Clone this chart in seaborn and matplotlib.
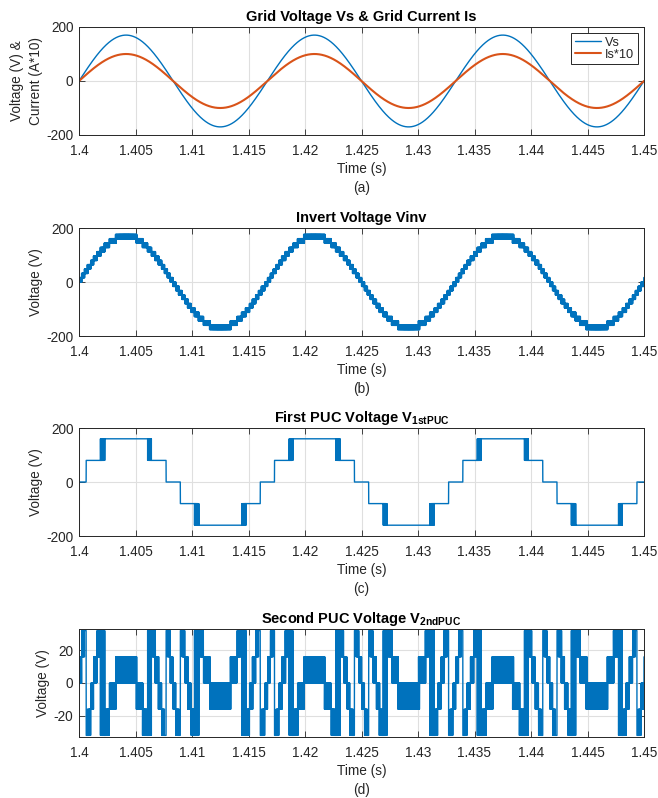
import numpy as np
import matplotlib
matplotlib.use("Agg")
import matplotlib.pyplot as plt
import seaborn as sns

# ---- waveform parameters ----
T_START, T_END = 1.4, 1.45          # s
DT = 1e-6                           # s, sample step
F_GRID = 60.0                       # Hz
VS_PEAK = 170.0                     # V, grid voltage peak
IS10_PEAK = 100.0                   # grid current peak (A*10)
LEVEL_STEP = 16.0                   # V, inverter voltage step
LEVEL_MAX = 176.0                   # V, highest inverter level
PUC1_STEP = 80.0                    # V, first PUC level step
PUC1_LOW_THRESHOLD = 40.0           # V
PUC1_HIGH_THRESHOLD = 128.0         # V
PUC2_LIMIT = 32.0                   # V, second PUC max level
CARRIER_HZ = 20000.0                # Hz, switching carrier
CARRIER_SPAN = 9.0                  # V, carrier amplitude

# ---- axis ticks / labels ----
x_ticks = [1.4, 1.405, 1.41, 1.415, 1.42, 1.425, 1.43, 1.435, 1.44, 1.445, 1.45]
x_tick_labels = ["1.4", "1.405", "1.41", "1.415", "1.42", "1.425", "1.43",
                 "1.435", "1.44", "1.445", "1.45"]
y_ticks_main = [-200, 0, 200]
y_ticks_puc2 = [-20, 0, 20]
ylim_main = (-200, 200)
ylim_puc2 = (-33, 33)

titles = [
    "Grid Voltage Vs & Grid Current Is",
    "Invert Voltage Vinv",
    r"First PUC Voltage V$_{\mathbf{1stPUC}}$",
    r"Second PUC Voltage V$_{\mathbf{2ndPUC}}$",
]
ylabels = ["Voltage (V) &\nCurrent (A*10)", "Voltage (V)", "Voltage (V)", "Voltage (V)"]
panel_tags = ["(a)", "(b)", "(c)", "(d)"]
legend_labels = ["Vs", "Is*10"]

# ---- signals ----
t = np.arange(T_START, T_END + DT / 2, DT)
phase = 2 * np.pi * F_GRID * (t - T_START)
vs = VS_PEAK * np.sin(phase)
is10 = IS10_PEAK * np.sin(phase)

carrier = 2 * np.abs(2 * ((t * CARRIER_HZ) % 1.0) - 1) - 1
vinv = LEVEL_STEP * np.round((vs + CARRIER_SPAN * carrier) / LEVEL_STEP)
vinv = np.clip(vinv, -LEVEL_MAX, LEVEL_MAX)

sgn = np.sign(vs)
k1 = (np.abs(vs) >= PUC1_LOW_THRESHOLD).astype(float) + \
     (np.abs(vinv) >= PUC1_HIGH_THRESHOLD).astype(float)
v1 = sgn * PUC1_STEP * k1
v2 = np.clip(vinv - v1, -PUC2_LIMIT, PUC2_LIMIT)

# ---- style ----
sns.set_style("ticks")
plt.rcParams["font.family"] = ["Liberation Sans", "DejaVu Sans"]
plt.rcParams["mathtext.fontset"] = "custom"
plt.rcParams["mathtext.rm"] = "Liberation Sans"
plt.rcParams["mathtext.bf"] = "Liberation Sans:bold"
plt.rcParams["mathtext.it"] = "Liberation Sans:italic"

BLUE = "#0072BD"
ORANGE = "#D95319"
DARK = "#262626"
GRID = "#dfdfdf"
FS = 9.8

W, H = 658, 798
fig = plt.figure(figsize=(W / 100, H / 100), dpi=100)

left_px, right_px = 79, 644
panel_tops = [27, 228, 428, 629]
panel_h = 108

axes = []
for top in panel_tops:
    ax = fig.add_axes([left_px / W, 1 - (top + panel_h) / H,
                       (right_px - left_px) / W, panel_h / H])
    axes.append(ax)

# (a) grid voltage and current
sns.lineplot(x=t, y=vs, ax=axes[0], color=BLUE, linewidth=1.0,
             estimator=None, sort=False, label=legend_labels[0])
sns.lineplot(x=t, y=is10, ax=axes[0], color=ORANGE, linewidth=1.5,
             estimator=None, sort=False, label=legend_labels[1])
# (b) inverter voltage
sns.lineplot(x=t, y=vinv, ax=axes[1], color=BLUE, linewidth=1.3,
             estimator=None, sort=False, legend=False)
# (c) first PUC
sns.lineplot(x=t, y=v1, ax=axes[2], color=BLUE, linewidth=1.0,
             estimator=None, sort=False, legend=False)
# (d) second PUC
sns.lineplot(x=t, y=v2, ax=axes[3], color=BLUE, linewidth=1.0,
             estimator=None, sort=False, legend=False)

for i, ax in enumerate(axes):
    ax.set_xlim(T_START, T_END)
    if i < 3:
        ax.set_ylim(*ylim_main)
        ax.set_yticks(y_ticks_main)
        ax.set_yticklabels([str(v) for v in y_ticks_main])
    else:
        ax.set_ylim(*ylim_puc2)
        ax.set_yticks(y_ticks_puc2)
        ax.set_yticklabels([str(v) for v in y_ticks_puc2])
    ax.set_xticks(x_ticks)
    ax.set_xticklabels(x_tick_labels)
    ax.grid(True, color=GRID, linewidth=0.8)
    ax.set_axisbelow(True)
    ax.tick_params(direction="in", length=4, width=0.6, colors=DARK,
                   labelsize=FS, top=True, right=True)
    ax.tick_params(axis="x", pad=6.5)
    ax.tick_params(axis="y", pad=4)
    for sp in ax.spines.values():
        sp.set_visible(True)
        sp.set_color(DARK)
        sp.set_linewidth(0.7)
    ax.set_title(titles[i], fontsize=FS + 0.7, fontweight="bold",
                 color="black", pad=4)
    ax.set_xlabel("Time (s)\n" + panel_tags[i], fontsize=FS, color=DARK,
                  linespacing=1.45, labelpad=3)
    ax.set_ylabel(ylabels[i], fontsize=FS, color=DARK, labelpad=2.5,
                  linespacing=1.45)

leg = axes[0].legend(loc="upper right", fontsize=FS - 0.6, frameon=True,
                     fancybox=False, edgecolor=DARK, framealpha=1,
                     borderpad=0.25, labelspacing=0.0, handlelength=2.1,
                     handletextpad=0.3, borderaxespad=0.5)
leg.get_frame().set_linewidth(0.7)

fig.savefig("out.png", dpi=100)
